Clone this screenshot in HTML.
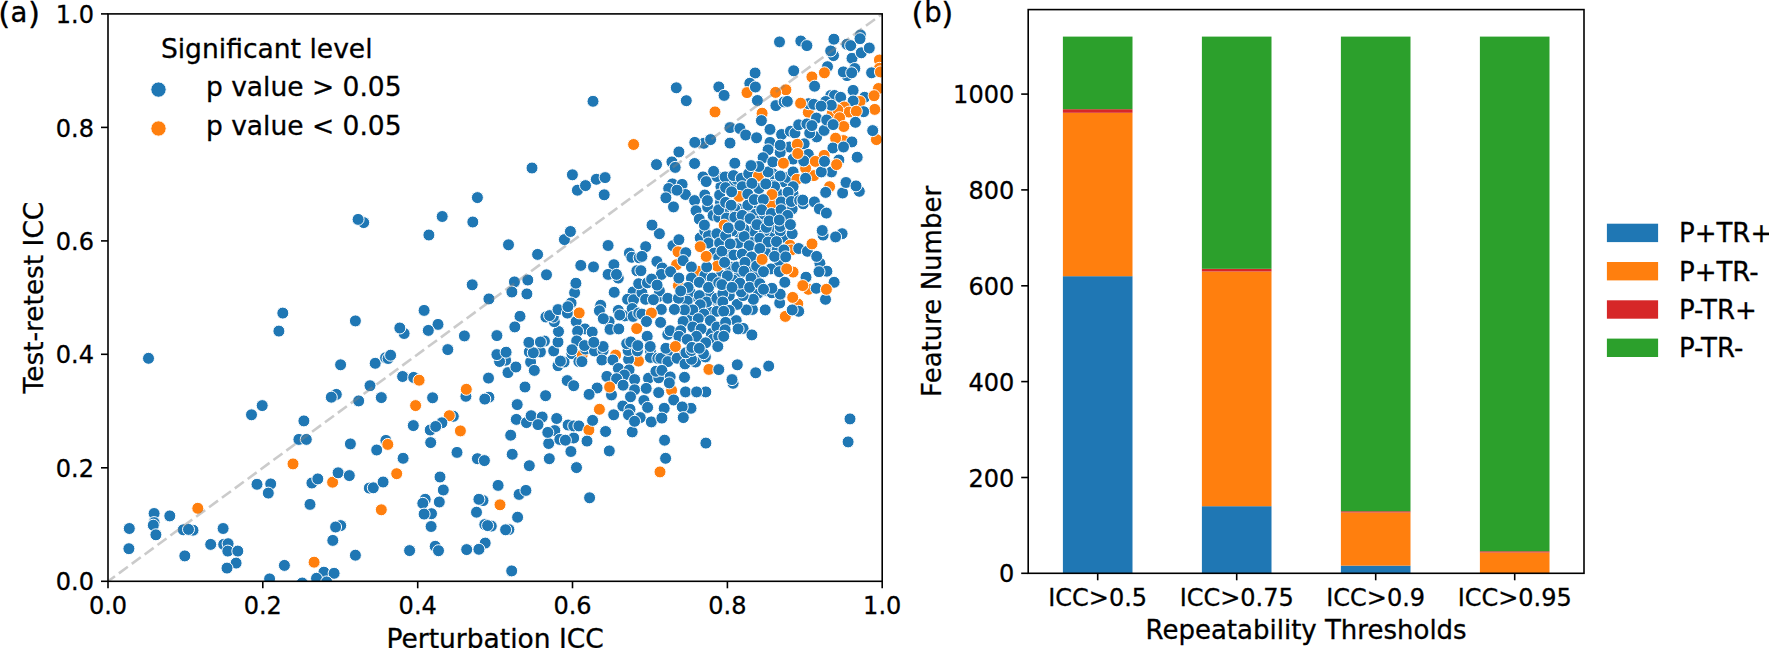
<!DOCTYPE html>
<html lang="en"><head><meta charset="utf-8"><title>Figure</title>
<style>html,body{margin:0;padding:0;background:#fff;}body{width:1769px;height:648px;overflow:hidden;}svg{display:block;}text{font-family:"DejaVu Sans", "Liberation Sans", sans-serif;fill:#000;stroke:#000;stroke-width:0.3px;}</style></head><body>
<svg width="1769" height="648" viewBox="0 0 1769 648">
<rect x="0" y="0" width="1769" height="648" fill="#fff"/>
<defs><clipPath id="ca"><rect x="108.0" y="13.9" width="774.2" height="567.4"/></clipPath></defs>
<g clip-path="url(#ca)">
<g stroke="#fff" stroke-width="1">
<circle cx="738.5" cy="243.0" r="6" fill="#1f77b4"/>
<circle cx="752.4" cy="237.4" r="6" fill="#1f77b4"/>
<circle cx="768.1" cy="247.6" r="6" fill="#1f77b4"/>
<circle cx="771.9" cy="251.3" r="6" fill="#1f77b4"/>
<circle cx="765.4" cy="252.2" r="6" fill="#1f77b4"/>
<circle cx="727.4" cy="253.1" r="6" fill="#1f77b4"/>
<circle cx="730.2" cy="267.0" r="6" fill="#1f77b4"/>
<circle cx="738.5" cy="276.3" r="6" fill="#1f77b4"/>
<circle cx="751.5" cy="270.7" r="6" fill="#1f77b4"/>
<circle cx="757.0" cy="274.4" r="6" fill="#1f77b4"/>
<circle cx="777.4" cy="249.4" r="6" fill="#1f77b4"/>
<circle cx="779.3" cy="265.2" r="6" fill="#1f77b4"/>
<circle cx="720.9" cy="275.4" r="6" fill="#1f77b4"/>
<circle cx="733.0" cy="280.0" r="6" fill="#1f77b4"/>
<circle cx="771.9" cy="235.6" r="6" fill="#1f77b4"/>
<circle cx="737.6" cy="231.9" r="6" fill="#1f77b4"/>
<circle cx="752.4" cy="230.9" r="6" fill="#1f77b4"/>
<circle cx="784.8" cy="237.4" r="6" fill="#1f77b4"/>
<circle cx="733.9" cy="183.9" r="6" fill="#1f77b4"/>
<circle cx="736.7" cy="179.3" r="6" fill="#1f77b4"/>
<circle cx="758.9" cy="188.5" r="6" fill="#1f77b4"/>
<circle cx="771.9" cy="179.3" r="6" fill="#1f77b4"/>
<circle cx="772.8" cy="173.7" r="6" fill="#1f77b4"/>
<circle cx="784.8" cy="182.0" r="6" fill="#1f77b4"/>
<circle cx="787.6" cy="177.4" r="6" fill="#1f77b4"/>
<circle cx="783.9" cy="196.9" r="6" fill="#1f77b4"/>
<circle cx="738.5" cy="208.9" r="6" fill="#1f77b4"/>
<circle cx="753.3" cy="209.8" r="6" fill="#1f77b4"/>
<circle cx="755.2" cy="214.4" r="6" fill="#1f77b4"/>
<circle cx="760.7" cy="220.0" r="6" fill="#1f77b4"/>
<circle cx="734.8" cy="208.9" r="6" fill="#1f77b4"/>
<circle cx="723.7" cy="210.7" r="6" fill="#1f77b4"/>
<circle cx="743.1" cy="221.9" r="6" fill="#1f77b4"/>
<circle cx="744.1" cy="229.3" r="6" fill="#1f77b4"/>
<circle cx="774.6" cy="210.7" r="6" fill="#1f77b4"/>
<circle cx="792.2" cy="208.9" r="6" fill="#1f77b4"/>
<circle cx="793.1" cy="194.1" r="6" fill="#1f77b4"/>
<circle cx="775.6" cy="227.4" r="6" fill="#1f77b4"/>
<circle cx="764.4" cy="214.4" r="6" fill="#1f77b4"/>
<circle cx="720.9" cy="186.7" r="6" fill="#1f77b4"/>
<circle cx="720.5" cy="202.4" r="6" fill="#1f77b4"/>
<circle cx="777.4" cy="193.1" r="6" fill="#1f77b4"/>
<circle cx="690.5" cy="316.9" r="6" fill="#1f77b4"/>
<circle cx="703.9" cy="306.7" r="6" fill="#1f77b4"/>
<circle cx="710.4" cy="312.2" r="6" fill="#1f77b4"/>
<circle cx="718.7" cy="304.8" r="6" fill="#1f77b4"/>
<circle cx="691.9" cy="296.5" r="6" fill="#1f77b4"/>
<circle cx="711.3" cy="299.3" r="6" fill="#1f77b4"/>
<circle cx="711.3" cy="333.5" r="6" fill="#1f77b4"/>
<circle cx="129.3" cy="528.5" r="6" fill="#1f77b4"/>
<circle cx="128.9" cy="548.7" r="6" fill="#1f77b4"/>
<circle cx="154.1" cy="513.5" r="6" fill="#1f77b4"/>
<circle cx="154.1" cy="522.6" r="6" fill="#1f77b4"/>
<circle cx="153.3" cy="525.2" r="6" fill="#1f77b4"/>
<circle cx="155.9" cy="534.8" r="6" fill="#1f77b4"/>
<circle cx="169.8" cy="515.9" r="6" fill="#1f77b4"/>
<circle cx="197.8" cy="508.3" r="6" fill="#ff7f0e"/>
<circle cx="183.3" cy="529.8" r="6" fill="#1f77b4"/>
<circle cx="193.0" cy="530.2" r="6" fill="#1f77b4"/>
<circle cx="188.5" cy="529.4" r="6" fill="#1f77b4"/>
<circle cx="184.8" cy="555.9" r="6" fill="#1f77b4"/>
<circle cx="223.1" cy="528.5" r="6" fill="#1f77b4"/>
<circle cx="210.7" cy="544.4" r="6" fill="#1f77b4"/>
<circle cx="223.7" cy="544.4" r="6" fill="#1f77b4"/>
<circle cx="228.1" cy="543.7" r="6" fill="#1f77b4"/>
<circle cx="227.8" cy="551.1" r="6" fill="#1f77b4"/>
<circle cx="237.8" cy="551.1" r="6" fill="#1f77b4"/>
<circle cx="236.1" cy="563.1" r="6" fill="#1f77b4"/>
<circle cx="227.0" cy="568.1" r="6" fill="#1f77b4"/>
<circle cx="257.0" cy="484.3" r="6" fill="#1f77b4"/>
<circle cx="270.7" cy="483.9" r="6" fill="#1f77b4"/>
<circle cx="268.3" cy="493.1" r="6" fill="#1f77b4"/>
<circle cx="311.9" cy="483.0" r="6" fill="#1f77b4"/>
<circle cx="317.8" cy="478.9" r="6" fill="#1f77b4"/>
<circle cx="332.6" cy="482.2" r="6" fill="#ff7f0e"/>
<circle cx="338.1" cy="472.8" r="6" fill="#1f77b4"/>
<circle cx="349.3" cy="475.6" r="6" fill="#1f77b4"/>
<circle cx="369.3" cy="488.1" r="6" fill="#1f77b4"/>
<circle cx="373.3" cy="487.8" r="6" fill="#1f77b4"/>
<circle cx="383.1" cy="482.0" r="6" fill="#1f77b4"/>
<circle cx="396.7" cy="473.7" r="6" fill="#ff7f0e"/>
<circle cx="310.0" cy="504.4" r="6" fill="#1f77b4"/>
<circle cx="381.3" cy="509.8" r="6" fill="#ff7f0e"/>
<circle cx="340.7" cy="525.6" r="6" fill="#1f77b4"/>
<circle cx="335.6" cy="527.0" r="6" fill="#1f77b4"/>
<circle cx="332.8" cy="540.4" r="6" fill="#1f77b4"/>
<circle cx="355.4" cy="555.2" r="6" fill="#1f77b4"/>
<circle cx="409.6" cy="550.6" r="6" fill="#1f77b4"/>
<circle cx="284.4" cy="565.4" r="6" fill="#1f77b4"/>
<circle cx="314.1" cy="562.2" r="6" fill="#ff7f0e"/>
<circle cx="323.9" cy="572.2" r="6" fill="#1f77b4"/>
<circle cx="334.1" cy="573.3" r="6" fill="#1f77b4"/>
<circle cx="269.6" cy="578.9" r="6" fill="#1f77b4"/>
<circle cx="316.5" cy="578.3" r="6" fill="#1f77b4"/>
<circle cx="302.2" cy="583.0" r="6" fill="#1f77b4"/>
<circle cx="326.7" cy="581.9" r="6" fill="#1f77b4"/>
<circle cx="440.0" cy="477.0" r="6" fill="#1f77b4"/>
<circle cx="443.3" cy="490.0" r="6" fill="#1f77b4"/>
<circle cx="439.3" cy="502.0" r="6" fill="#1f77b4"/>
<circle cx="425.2" cy="499.3" r="6" fill="#1f77b4"/>
<circle cx="422.8" cy="503.3" r="6" fill="#1f77b4"/>
<circle cx="431.5" cy="513.7" r="6" fill="#1f77b4"/>
<circle cx="424.1" cy="514.1" r="6" fill="#1f77b4"/>
<circle cx="431.1" cy="526.5" r="6" fill="#1f77b4"/>
<circle cx="435.2" cy="546.3" r="6" fill="#1f77b4"/>
<circle cx="438.5" cy="550.7" r="6" fill="#1f77b4"/>
<circle cx="466.7" cy="549.6" r="6" fill="#1f77b4"/>
<circle cx="485.2" cy="543.1" r="6" fill="#1f77b4"/>
<circle cx="478.9" cy="549.3" r="6" fill="#1f77b4"/>
<circle cx="476.5" cy="512.2" r="6" fill="#1f77b4"/>
<circle cx="483.0" cy="500.6" r="6" fill="#1f77b4"/>
<circle cx="478.9" cy="499.3" r="6" fill="#1f77b4"/>
<circle cx="498.1" cy="485.4" r="6" fill="#1f77b4"/>
<circle cx="500.0" cy="504.8" r="6" fill="#ff7f0e"/>
<circle cx="519.1" cy="494.4" r="6" fill="#1f77b4"/>
<circle cx="525.9" cy="490.4" r="6" fill="#1f77b4"/>
<circle cx="517.6" cy="517.2" r="6" fill="#1f77b4"/>
<circle cx="484.8" cy="524.6" r="6" fill="#1f77b4"/>
<circle cx="491.3" cy="526.1" r="6" fill="#1f77b4"/>
<circle cx="487.6" cy="525.6" r="6" fill="#1f77b4"/>
<circle cx="508.9" cy="529.6" r="6" fill="#1f77b4"/>
<circle cx="505.6" cy="529.8" r="6" fill="#1f77b4"/>
<circle cx="511.7" cy="570.9" r="6" fill="#1f77b4"/>
<circle cx="589.6" cy="497.8" r="6" fill="#1f77b4"/>
<circle cx="660.0" cy="471.9" r="6" fill="#ff7f0e"/>
<circle cx="850.0" cy="418.9" r="6" fill="#1f77b4"/>
<circle cx="848.1" cy="441.9" r="6" fill="#1f77b4"/>
<circle cx="148.5" cy="358.3" r="6" fill="#1f77b4"/>
<circle cx="251.5" cy="414.8" r="6" fill="#1f77b4"/>
<circle cx="262.2" cy="405.6" r="6" fill="#1f77b4"/>
<circle cx="340.6" cy="364.8" r="6" fill="#1f77b4"/>
<circle cx="375.2" cy="363.3" r="6" fill="#1f77b4"/>
<circle cx="385.6" cy="357.8" r="6" fill="#1f77b4"/>
<circle cx="388.1" cy="358.5" r="6" fill="#1f77b4"/>
<circle cx="390.6" cy="355.2" r="6" fill="#1f77b4"/>
<circle cx="402.6" cy="376.5" r="6" fill="#1f77b4"/>
<circle cx="413.7" cy="377.4" r="6" fill="#1f77b4"/>
<circle cx="370.0" cy="385.7" r="6" fill="#1f77b4"/>
<circle cx="336.3" cy="394.4" r="6" fill="#1f77b4"/>
<circle cx="331.3" cy="397.2" r="6" fill="#1f77b4"/>
<circle cx="358.7" cy="400.9" r="6" fill="#1f77b4"/>
<circle cx="381.3" cy="397.6" r="6" fill="#1f77b4"/>
<circle cx="415.6" cy="405.6" r="6" fill="#ff7f0e"/>
<circle cx="303.9" cy="420.9" r="6" fill="#1f77b4"/>
<circle cx="298.9" cy="439.4" r="6" fill="#1f77b4"/>
<circle cx="306.3" cy="439.4" r="6" fill="#1f77b4"/>
<circle cx="350.4" cy="443.9" r="6" fill="#1f77b4"/>
<circle cx="413.3" cy="425.6" r="6" fill="#1f77b4"/>
<circle cx="385.9" cy="440.4" r="6" fill="#1f77b4"/>
<circle cx="387.8" cy="444.4" r="6" fill="#ff7f0e"/>
<circle cx="376.7" cy="450.0" r="6" fill="#1f77b4"/>
<circle cx="403.1" cy="458.3" r="6" fill="#1f77b4"/>
<circle cx="293.0" cy="463.9" r="6" fill="#ff7f0e"/>
<circle cx="419.1" cy="380.2" r="6" fill="#ff7f0e"/>
<circle cx="447.8" cy="349.6" r="6" fill="#1f77b4"/>
<circle cx="432.6" cy="397.8" r="6" fill="#1f77b4"/>
<circle cx="465.9" cy="396.3" r="6" fill="#1f77b4"/>
<circle cx="466.3" cy="389.3" r="6" fill="#ff7f0e"/>
<circle cx="488.5" cy="378.1" r="6" fill="#1f77b4"/>
<circle cx="488.9" cy="397.2" r="6" fill="#1f77b4"/>
<circle cx="484.8" cy="399.1" r="6" fill="#1f77b4"/>
<circle cx="453.3" cy="416.3" r="6" fill="#1f77b4"/>
<circle cx="449.3" cy="415.7" r="6" fill="#ff7f0e"/>
<circle cx="441.9" cy="422.8" r="6" fill="#1f77b4"/>
<circle cx="430.2" cy="430.0" r="6" fill="#1f77b4"/>
<circle cx="435.7" cy="426.5" r="6" fill="#1f77b4"/>
<circle cx="460.4" cy="430.9" r="6" fill="#ff7f0e"/>
<circle cx="430.7" cy="442.6" r="6" fill="#1f77b4"/>
<circle cx="457.0" cy="452.4" r="6" fill="#1f77b4"/>
<circle cx="477.4" cy="458.7" r="6" fill="#1f77b4"/>
<circle cx="484.4" cy="460.6" r="6" fill="#1f77b4"/>
<circle cx="510.7" cy="435.2" r="6" fill="#1f77b4"/>
<circle cx="512.2" cy="454.3" r="6" fill="#1f77b4"/>
<circle cx="529.3" cy="465.7" r="6" fill="#1f77b4"/>
<circle cx="549.3" cy="458.7" r="6" fill="#1f77b4"/>
<circle cx="570.9" cy="451.5" r="6" fill="#1f77b4"/>
<circle cx="576.5" cy="467.6" r="6" fill="#1f77b4"/>
<circle cx="548.7" cy="443.5" r="6" fill="#1f77b4"/>
<circle cx="554.8" cy="430.6" r="6" fill="#1f77b4"/>
<circle cx="547.8" cy="432.4" r="6" fill="#1f77b4"/>
<circle cx="573.7" cy="438.0" r="6" fill="#1f77b4"/>
<circle cx="559.8" cy="439.4" r="6" fill="#1f77b4"/>
<circle cx="565.4" cy="440.2" r="6" fill="#1f77b4"/>
<circle cx="568.1" cy="425.0" r="6" fill="#1f77b4"/>
<circle cx="573.7" cy="425.9" r="6" fill="#1f77b4"/>
<circle cx="578.9" cy="425.9" r="6" fill="#1f77b4"/>
<circle cx="556.7" cy="418.5" r="6" fill="#1f77b4"/>
<circle cx="516.3" cy="419.4" r="6" fill="#1f77b4"/>
<circle cx="526.5" cy="422.6" r="6" fill="#1f77b4"/>
<circle cx="531.1" cy="415.7" r="6" fill="#1f77b4"/>
<circle cx="542.2" cy="417.0" r="6" fill="#1f77b4"/>
<circle cx="538.0" cy="424.6" r="6" fill="#1f77b4"/>
<circle cx="517.2" cy="404.6" r="6" fill="#1f77b4"/>
<circle cx="525.0" cy="387.0" r="6" fill="#1f77b4"/>
<circle cx="545.6" cy="395.7" r="6" fill="#1f77b4"/>
<circle cx="567.2" cy="380.6" r="6" fill="#1f77b4"/>
<circle cx="573.7" cy="385.7" r="6" fill="#1f77b4"/>
<circle cx="508.0" cy="372.6" r="6" fill="#1f77b4"/>
<circle cx="515.9" cy="367.0" r="6" fill="#1f77b4"/>
<circle cx="505.6" cy="360.2" r="6" fill="#1f77b4"/>
<circle cx="499.6" cy="361.5" r="6" fill="#1f77b4"/>
<circle cx="496.9" cy="354.6" r="6" fill="#1f77b4"/>
<circle cx="506.1" cy="352.2" r="6" fill="#1f77b4"/>
<circle cx="530.6" cy="362.0" r="6" fill="#1f77b4"/>
<circle cx="534.3" cy="370.4" r="6" fill="#1f77b4"/>
<circle cx="529.3" cy="351.9" r="6" fill="#1f77b4"/>
<circle cx="540.4" cy="351.9" r="6" fill="#1f77b4"/>
<circle cx="533.3" cy="352.8" r="6" fill="#1f77b4"/>
<circle cx="553.7" cy="350.9" r="6" fill="#1f77b4"/>
<circle cx="558.0" cy="365.7" r="6" fill="#1f77b4"/>
<circle cx="564.1" cy="362.0" r="6" fill="#1f77b4"/>
<circle cx="560.4" cy="361.1" r="6" fill="#1f77b4"/>
<circle cx="571.9" cy="353.7" r="6" fill="#1f77b4"/>
<circle cx="578.9" cy="361.5" r="6" fill="#1f77b4"/>
<circle cx="588.9" cy="430.0" r="6" fill="#ff7f0e"/>
<circle cx="592.6" cy="420.4" r="6" fill="#1f77b4"/>
<circle cx="587.0" cy="441.1" r="6" fill="#1f77b4"/>
<circle cx="605.6" cy="431.5" r="6" fill="#1f77b4"/>
<circle cx="609.3" cy="450.9" r="6" fill="#1f77b4"/>
<circle cx="632.2" cy="431.9" r="6" fill="#1f77b4"/>
<circle cx="664.6" cy="440.2" r="6" fill="#1f77b4"/>
<circle cx="665.6" cy="458.3" r="6" fill="#1f77b4"/>
<circle cx="705.9" cy="443.1" r="6" fill="#1f77b4"/>
<circle cx="582.3" cy="354.6" r="6" fill="#ff7f0e"/>
<circle cx="581.9" cy="361.6" r="6" fill="#1f77b4"/>
<circle cx="585.6" cy="349.1" r="6" fill="#1f77b4"/>
<circle cx="594.4" cy="350.9" r="6" fill="#1f77b4"/>
<circle cx="603.1" cy="350.5" r="6" fill="#1f77b4"/>
<circle cx="601.9" cy="360.0" r="6" fill="#1f77b4"/>
<circle cx="615.6" cy="355.1" r="6" fill="#ff7f0e"/>
<circle cx="612.9" cy="360.0" r="6" fill="#1f77b4"/>
<circle cx="638.5" cy="361.1" r="6" fill="#ff7f0e"/>
<circle cx="628.6" cy="359.3" r="6" fill="#1f77b4"/>
<circle cx="628.1" cy="350.5" r="6" fill="#1f77b4"/>
<circle cx="637.4" cy="350.9" r="6" fill="#1f77b4"/>
<circle cx="650.4" cy="350.9" r="6" fill="#1f77b4"/>
<circle cx="650.4" cy="357.4" r="6" fill="#1f77b4"/>
<circle cx="657.8" cy="358.3" r="6" fill="#1f77b4"/>
<circle cx="618.4" cy="368.5" r="6" fill="#1f77b4"/>
<circle cx="629.1" cy="369.9" r="6" fill="#1f77b4"/>
<circle cx="624.4" cy="375.0" r="6" fill="#1f77b4"/>
<circle cx="606.9" cy="376.4" r="6" fill="#1f77b4"/>
<circle cx="616.6" cy="378.7" r="6" fill="#1f77b4"/>
<circle cx="634.6" cy="379.6" r="6" fill="#1f77b4"/>
<circle cx="648.5" cy="378.2" r="6" fill="#1f77b4"/>
<circle cx="658.7" cy="377.8" r="6" fill="#1f77b4"/>
<circle cx="655.9" cy="371.3" r="6" fill="#1f77b4"/>
<circle cx="623.1" cy="385.2" r="6" fill="#1f77b4"/>
<circle cx="611.5" cy="394.9" r="6" fill="#1f77b4"/>
<circle cx="609.6" cy="387.0" r="6" fill="#ff7f0e"/>
<circle cx="597.1" cy="388.0" r="6" fill="#1f77b4"/>
<circle cx="634.6" cy="389.8" r="6" fill="#1f77b4"/>
<circle cx="646.2" cy="388.4" r="6" fill="#1f77b4"/>
<circle cx="658.7" cy="392.6" r="6" fill="#1f77b4"/>
<circle cx="589.1" cy="394.4" r="6" fill="#1f77b4"/>
<circle cx="630.5" cy="396.8" r="6" fill="#1f77b4"/>
<circle cx="643.9" cy="400.5" r="6" fill="#1f77b4"/>
<circle cx="622.8" cy="406.0" r="6" fill="#1f77b4"/>
<circle cx="599.4" cy="409.3" r="6" fill="#ff7f0e"/>
<circle cx="647.6" cy="407.4" r="6" fill="#1f77b4"/>
<circle cx="630.0" cy="409.3" r="6" fill="#1f77b4"/>
<circle cx="675.3" cy="350.5" r="6" fill="#ff7f0e"/>
<circle cx="667.4" cy="351.9" r="6" fill="#1f77b4"/>
<circle cx="660.9" cy="358.3" r="6" fill="#1f77b4"/>
<circle cx="667.9" cy="361.6" r="6" fill="#1f77b4"/>
<circle cx="677.1" cy="358.3" r="6" fill="#1f77b4"/>
<circle cx="685.0" cy="363.9" r="6" fill="#1f77b4"/>
<circle cx="695.6" cy="362.0" r="6" fill="#1f77b4"/>
<circle cx="691.5" cy="359.3" r="6" fill="#1f77b4"/>
<circle cx="685.9" cy="352.8" r="6" fill="#1f77b4"/>
<circle cx="691.5" cy="350.5" r="6" fill="#1f77b4"/>
<circle cx="701.7" cy="350.9" r="6" fill="#1f77b4"/>
<circle cx="705.4" cy="356.9" r="6" fill="#1f77b4"/>
<circle cx="703.5" cy="353.7" r="6" fill="#1f77b4"/>
<circle cx="708.9" cy="369.4" r="6" fill="#ff7f0e"/>
<circle cx="718.8" cy="369.6" r="6" fill="#1f77b4"/>
<circle cx="737.3" cy="364.8" r="6" fill="#1f77b4"/>
<circle cx="733.1" cy="383.3" r="6" fill="#1f77b4"/>
<circle cx="732.0" cy="379.6" r="6" fill="#1f77b4"/>
<circle cx="684.5" cy="377.3" r="6" fill="#1f77b4"/>
<circle cx="661.9" cy="370.4" r="6" fill="#1f77b4"/>
<circle cx="670.2" cy="376.9" r="6" fill="#1f77b4"/>
<circle cx="671.6" cy="390.3" r="6" fill="#ff7f0e"/>
<circle cx="669.3" cy="382.9" r="6" fill="#1f77b4"/>
<circle cx="685.5" cy="391.9" r="6" fill="#1f77b4"/>
<circle cx="705.8" cy="391.9" r="6" fill="#1f77b4"/>
<circle cx="696.6" cy="391.9" r="6" fill="#1f77b4"/>
<circle cx="673.7" cy="400.0" r="6" fill="#1f77b4"/>
<circle cx="691.0" cy="408.3" r="6" fill="#1f77b4"/>
<circle cx="682.2" cy="406.9" r="6" fill="#1f77b4"/>
<circle cx="664.2" cy="408.3" r="6" fill="#1f77b4"/>
<circle cx="613.7" cy="414.8" r="6" fill="#1f77b4"/>
<circle cx="628.5" cy="414.8" r="6" fill="#1f77b4"/>
<circle cx="640.2" cy="417.6" r="6" fill="#1f77b4"/>
<circle cx="634.6" cy="421.3" r="6" fill="#1f77b4"/>
<circle cx="651.3" cy="421.9" r="6" fill="#1f77b4"/>
<circle cx="661.9" cy="418.1" r="6" fill="#1f77b4"/>
<circle cx="683.3" cy="417.6" r="6" fill="#1f77b4"/>
<circle cx="755.7" cy="372.8" r="6" fill="#1f77b4"/>
<circle cx="768.7" cy="366.1" r="6" fill="#1f77b4"/>
<circle cx="363.7" cy="222.6" r="6" fill="#1f77b4"/>
<circle cx="358.1" cy="219.4" r="6" fill="#1f77b4"/>
<circle cx="282.8" cy="313.1" r="6" fill="#1f77b4"/>
<circle cx="278.9" cy="331.1" r="6" fill="#1f77b4"/>
<circle cx="355.4" cy="320.9" r="6" fill="#1f77b4"/>
<circle cx="404.1" cy="333.5" r="6" fill="#1f77b4"/>
<circle cx="399.8" cy="328.0" r="6" fill="#1f77b4"/>
<circle cx="428.9" cy="235.0" r="6" fill="#1f77b4"/>
<circle cx="508.5" cy="244.8" r="6" fill="#1f77b4"/>
<circle cx="537.6" cy="254.4" r="6" fill="#1f77b4"/>
<circle cx="564.4" cy="239.6" r="6" fill="#1f77b4"/>
<circle cx="570.4" cy="231.5" r="6" fill="#1f77b4"/>
<circle cx="546.5" cy="274.8" r="6" fill="#1f77b4"/>
<circle cx="514.4" cy="281.9" r="6" fill="#1f77b4"/>
<circle cx="527.8" cy="280.0" r="6" fill="#1f77b4"/>
<circle cx="511.9" cy="292.0" r="6" fill="#1f77b4"/>
<circle cx="526.9" cy="293.9" r="6" fill="#1f77b4"/>
<circle cx="472.2" cy="284.8" r="6" fill="#1f77b4"/>
<circle cx="488.9" cy="298.9" r="6" fill="#1f77b4"/>
<circle cx="424.1" cy="310.4" r="6" fill="#1f77b4"/>
<circle cx="438.0" cy="324.4" r="6" fill="#1f77b4"/>
<circle cx="428.3" cy="330.4" r="6" fill="#1f77b4"/>
<circle cx="464.4" cy="335.9" r="6" fill="#1f77b4"/>
<circle cx="496.9" cy="335.6" r="6" fill="#1f77b4"/>
<circle cx="520.0" cy="316.3" r="6" fill="#1f77b4"/>
<circle cx="514.8" cy="326.9" r="6" fill="#1f77b4"/>
<circle cx="528.9" cy="342.4" r="6" fill="#1f77b4"/>
<circle cx="544.4" cy="341.1" r="6" fill="#1f77b4"/>
<circle cx="540.4" cy="342.0" r="6" fill="#1f77b4"/>
<circle cx="558.0" cy="342.0" r="6" fill="#1f77b4"/>
<circle cx="558.5" cy="331.5" r="6" fill="#1f77b4"/>
<circle cx="554.3" cy="321.7" r="6" fill="#1f77b4"/>
<circle cx="553.3" cy="317.0" r="6" fill="#1f77b4"/>
<circle cx="545.9" cy="317.0" r="6" fill="#1f77b4"/>
<circle cx="549.6" cy="315.6" r="6" fill="#1f77b4"/>
<circle cx="558.0" cy="309.6" r="6" fill="#1f77b4"/>
<circle cx="574.6" cy="292.8" r="6" fill="#1f77b4"/>
<circle cx="614.2" cy="292.3" r="6" fill="#1f77b4"/>
<circle cx="571.1" cy="303.0" r="6" fill="#1f77b4"/>
<circle cx="567.4" cy="313.1" r="6" fill="#1f77b4"/>
<circle cx="567.9" cy="306.7" r="6" fill="#1f77b4"/>
<circle cx="600.7" cy="305.3" r="6" fill="#1f77b4"/>
<circle cx="599.4" cy="310.8" r="6" fill="#1f77b4"/>
<circle cx="609.1" cy="321.5" r="6" fill="#1f77b4"/>
<circle cx="603.3" cy="318.7" r="6" fill="#1f77b4"/>
<circle cx="610.0" cy="329.4" r="6" fill="#1f77b4"/>
<circle cx="618.8" cy="328.9" r="6" fill="#1f77b4"/>
<circle cx="618.3" cy="310.4" r="6" fill="#1f77b4"/>
<circle cx="624.8" cy="315.9" r="6" fill="#1f77b4"/>
<circle cx="619.7" cy="315.0" r="6" fill="#1f77b4"/>
<circle cx="633.1" cy="291.9" r="6" fill="#1f77b4"/>
<circle cx="627.6" cy="299.3" r="6" fill="#1f77b4"/>
<circle cx="633.6" cy="299.7" r="6" fill="#1f77b4"/>
<circle cx="632.2" cy="308.5" r="6" fill="#1f77b4"/>
<circle cx="633.1" cy="316.4" r="6" fill="#1f77b4"/>
<circle cx="638.7" cy="313.1" r="6" fill="#1f77b4"/>
<circle cx="636.7" cy="328.6" r="6" fill="#ff7f0e"/>
<circle cx="576.2" cy="321.5" r="6" fill="#1f77b4"/>
<circle cx="579.2" cy="312.9" r="6" fill="#ff7f0e"/>
<circle cx="585.0" cy="328.9" r="6" fill="#1f77b4"/>
<circle cx="577.6" cy="331.2" r="6" fill="#1f77b4"/>
<circle cx="592.2" cy="332.1" r="6" fill="#1f77b4"/>
<circle cx="576.7" cy="340.9" r="6" fill="#1f77b4"/>
<circle cx="584.5" cy="345.6" r="6" fill="#1f77b4"/>
<circle cx="603.1" cy="346.5" r="6" fill="#1f77b4"/>
<circle cx="593.8" cy="342.3" r="6" fill="#1f77b4"/>
<circle cx="626.7" cy="343.7" r="6" fill="#1f77b4"/>
<circle cx="630.8" cy="341.9" r="6" fill="#1f77b4"/>
<circle cx="637.8" cy="345.6" r="6" fill="#1f77b4"/>
<circle cx="572.0" cy="349.7" r="6" fill="#1f77b4"/>
<circle cx="641.9" cy="292.8" r="6" fill="#1f77b4"/>
<circle cx="645.6" cy="299.3" r="6" fill="#1f77b4"/>
<circle cx="658.5" cy="296.5" r="6" fill="#1f77b4"/>
<circle cx="659.4" cy="290.9" r="6" fill="#1f77b4"/>
<circle cx="653.4" cy="299.7" r="6" fill="#1f77b4"/>
<circle cx="667.8" cy="298.3" r="6" fill="#1f77b4"/>
<circle cx="680.7" cy="290.9" r="6" fill="#1f77b4"/>
<circle cx="690.0" cy="291.9" r="6" fill="#1f77b4"/>
<circle cx="687.2" cy="301.1" r="6" fill="#1f77b4"/>
<circle cx="678.4" cy="298.3" r="6" fill="#1f77b4"/>
<circle cx="708.5" cy="291.9" r="6" fill="#1f77b4"/>
<circle cx="699.3" cy="295.6" r="6" fill="#1f77b4"/>
<circle cx="706.7" cy="302.0" r="6" fill="#1f77b4"/>
<circle cx="700.2" cy="304.8" r="6" fill="#1f77b4"/>
<circle cx="716.9" cy="298.3" r="6" fill="#1f77b4"/>
<circle cx="716.9" cy="311.3" r="6" fill="#1f77b4"/>
<circle cx="692.8" cy="309.9" r="6" fill="#1f77b4"/>
<circle cx="684.4" cy="309.9" r="6" fill="#1f77b4"/>
<circle cx="674.4" cy="309.4" r="6" fill="#1f77b4"/>
<circle cx="661.3" cy="309.4" r="6" fill="#1f77b4"/>
<circle cx="641.9" cy="314.1" r="6" fill="#1f77b4"/>
<circle cx="651.4" cy="313.1" r="6" fill="#ff7f0e"/>
<circle cx="646.5" cy="321.5" r="6" fill="#1f77b4"/>
<circle cx="660.6" cy="322.4" r="6" fill="#1f77b4"/>
<circle cx="703.9" cy="314.1" r="6" fill="#1f77b4"/>
<circle cx="698.3" cy="318.7" r="6" fill="#1f77b4"/>
<circle cx="683.1" cy="321.5" r="6" fill="#1f77b4"/>
<circle cx="710.4" cy="320.6" r="6" fill="#1f77b4"/>
<circle cx="692.8" cy="327.0" r="6" fill="#1f77b4"/>
<circle cx="701.1" cy="328.9" r="6" fill="#1f77b4"/>
<circle cx="716.9" cy="327.0" r="6" fill="#1f77b4"/>
<circle cx="667.8" cy="334.4" r="6" fill="#1f77b4"/>
<circle cx="670.1" cy="330.7" r="6" fill="#1f77b4"/>
<circle cx="647.2" cy="336.3" r="6" fill="#1f77b4"/>
<circle cx="680.7" cy="330.7" r="6" fill="#1f77b4"/>
<circle cx="678.9" cy="336.3" r="6" fill="#1f77b4"/>
<circle cx="696.5" cy="336.3" r="6" fill="#1f77b4"/>
<circle cx="687.2" cy="339.5" r="6" fill="#1f77b4"/>
<circle cx="713.1" cy="339.1" r="6" fill="#1f77b4"/>
<circle cx="705.7" cy="342.8" r="6" fill="#1f77b4"/>
<circle cx="718.7" cy="336.3" r="6" fill="#1f77b4"/>
<circle cx="717.8" cy="346.5" r="6" fill="#1f77b4"/>
<circle cx="650.2" cy="346.5" r="6" fill="#1f77b4"/>
<circle cx="665.9" cy="348.3" r="6" fill="#1f77b4"/>
<circle cx="675.4" cy="346.5" r="6" fill="#ff7f0e"/>
<circle cx="691.9" cy="347.4" r="6" fill="#1f77b4"/>
<circle cx="699.3" cy="348.3" r="6" fill="#1f77b4"/>
<circle cx="767.2" cy="290.9" r="6" fill="#1f77b4"/>
<circle cx="771.9" cy="292.8" r="6" fill="#1f77b4"/>
<circle cx="758.0" cy="293.2" r="6" fill="#1f77b4"/>
<circle cx="779.7" cy="303.0" r="6" fill="#1f77b4"/>
<circle cx="780.2" cy="294.2" r="6" fill="#1f77b4"/>
<circle cx="797.8" cy="303.9" r="6" fill="#ff7f0e"/>
<circle cx="792.7" cy="297.4" r="6" fill="#ff7f0e"/>
<circle cx="785.3" cy="316.4" r="6" fill="#ff7f0e"/>
<circle cx="798.7" cy="311.3" r="6" fill="#1f77b4"/>
<circle cx="792.2" cy="309.9" r="6" fill="#1f77b4"/>
<circle cx="765.2" cy="309.9" r="6" fill="#1f77b4"/>
<circle cx="752.4" cy="309.4" r="6" fill="#1f77b4"/>
<circle cx="746.4" cy="309.9" r="6" fill="#1f77b4"/>
<circle cx="737.1" cy="304.4" r="6" fill="#1f77b4"/>
<circle cx="753.3" cy="299.3" r="6" fill="#1f77b4"/>
<circle cx="743.1" cy="295.6" r="6" fill="#1f77b4"/>
<circle cx="741.3" cy="291.9" r="6" fill="#1f77b4"/>
<circle cx="729.3" cy="295.6" r="6" fill="#1f77b4"/>
<circle cx="722.8" cy="293.7" r="6" fill="#1f77b4"/>
<circle cx="722.8" cy="302.0" r="6" fill="#1f77b4"/>
<circle cx="729.3" cy="310.4" r="6" fill="#1f77b4"/>
<circle cx="723.7" cy="311.3" r="6" fill="#1f77b4"/>
<circle cx="736.2" cy="320.6" r="6" fill="#1f77b4"/>
<circle cx="743.1" cy="328.4" r="6" fill="#1f77b4"/>
<circle cx="738.1" cy="328.9" r="6" fill="#1f77b4"/>
<circle cx="751.9" cy="334.9" r="6" fill="#1f77b4"/>
<circle cx="725.6" cy="322.4" r="6" fill="#1f77b4"/>
<circle cx="725.1" cy="329.8" r="6" fill="#1f77b4"/>
<circle cx="723.7" cy="336.3" r="6" fill="#1f77b4"/>
<circle cx="825.5" cy="299.3" r="6" fill="#1f77b4"/>
<circle cx="608.1" cy="245.5" r="6" fill="#1f77b4"/>
<circle cx="629.4" cy="253.1" r="6" fill="#1f77b4"/>
<circle cx="631.8" cy="257.3" r="6" fill="#1f77b4"/>
<circle cx="580.8" cy="265.4" r="6" fill="#1f77b4"/>
<circle cx="593.5" cy="266.9" r="6" fill="#1f77b4"/>
<circle cx="613.9" cy="264.7" r="6" fill="#1f77b4"/>
<circle cx="608.1" cy="274.4" r="6" fill="#1f77b4"/>
<circle cx="618.3" cy="278.1" r="6" fill="#1f77b4"/>
<circle cx="616.5" cy="274.4" r="6" fill="#1f77b4"/>
<circle cx="636.9" cy="270.7" r="6" fill="#1f77b4"/>
<circle cx="639.2" cy="257.8" r="6" fill="#1f77b4"/>
<circle cx="575.9" cy="283.2" r="6" fill="#1f77b4"/>
<circle cx="638.7" cy="283.7" r="6" fill="#1f77b4"/>
<circle cx="659.4" cy="233.7" r="6" fill="#1f77b4"/>
<circle cx="645.7" cy="246.7" r="6" fill="#1f77b4"/>
<circle cx="641.9" cy="256.4" r="6" fill="#1f77b4"/>
<circle cx="640.9" cy="270.7" r="6" fill="#1f77b4"/>
<circle cx="656.9" cy="261.5" r="6" fill="#1f77b4"/>
<circle cx="672.9" cy="245.7" r="6" fill="#1f77b4"/>
<circle cx="678.9" cy="239.7" r="6" fill="#1f77b4"/>
<circle cx="678.0" cy="251.8" r="6" fill="#ff7f0e"/>
<circle cx="685.8" cy="252.7" r="6" fill="#1f77b4"/>
<circle cx="676.6" cy="264.7" r="6" fill="#ff7f0e"/>
<circle cx="683.1" cy="260.6" r="6" fill="#1f77b4"/>
<circle cx="700.2" cy="237.9" r="6" fill="#1f77b4"/>
<circle cx="704.8" cy="230.9" r="6" fill="#1f77b4"/>
<circle cx="708.5" cy="235.6" r="6" fill="#1f77b4"/>
<circle cx="716.9" cy="233.7" r="6" fill="#1f77b4"/>
<circle cx="708.5" cy="243.0" r="6" fill="#1f77b4"/>
<circle cx="714.1" cy="253.1" r="6" fill="#1f77b4"/>
<circle cx="719.6" cy="243.0" r="6" fill="#1f77b4"/>
<circle cx="718.7" cy="257.8" r="6" fill="#1f77b4"/>
<circle cx="717.3" cy="266.1" r="6" fill="#ff7f0e"/>
<circle cx="697.9" cy="271.2" r="6" fill="#ff7f0e"/>
<circle cx="691.4" cy="267.0" r="6" fill="#1f77b4"/>
<circle cx="662.2" cy="268.0" r="6" fill="#1f77b4"/>
<circle cx="661.3" cy="274.4" r="6" fill="#1f77b4"/>
<circle cx="670.6" cy="271.7" r="6" fill="#1f77b4"/>
<circle cx="647.4" cy="282.8" r="6" fill="#1f77b4"/>
<circle cx="651.6" cy="279.1" r="6" fill="#1f77b4"/>
<circle cx="657.1" cy="285.1" r="6" fill="#1f77b4"/>
<circle cx="678.4" cy="285.6" r="6" fill="#ff7f0e"/>
<circle cx="678.9" cy="278.1" r="6" fill="#1f77b4"/>
<circle cx="691.4" cy="278.1" r="6" fill="#1f77b4"/>
<circle cx="704.8" cy="275.4" r="6" fill="#1f77b4"/>
<circle cx="706.7" cy="267.0" r="6" fill="#1f77b4"/>
<circle cx="699.3" cy="282.3" r="6" fill="#1f77b4"/>
<circle cx="712.2" cy="278.1" r="6" fill="#1f77b4"/>
<circle cx="708.5" cy="287.4" r="6" fill="#1f77b4"/>
<circle cx="718.7" cy="282.8" r="6" fill="#1f77b4"/>
<circle cx="688.1" cy="287.4" r="6" fill="#1f77b4"/>
<circle cx="700.2" cy="246.7" r="6" fill="#ff7f0e"/>
<circle cx="706.2" cy="256.4" r="6" fill="#ff7f0e"/>
<circle cx="680.7" cy="290.9" r="6" fill="#1f77b4"/>
<circle cx="732.0" cy="230.9" r="6" fill="#1f77b4"/>
<circle cx="725.6" cy="235.6" r="6" fill="#1f77b4"/>
<circle cx="721.9" cy="251.3" r="6" fill="#1f77b4"/>
<circle cx="730.2" cy="243.9" r="6" fill="#1f77b4"/>
<circle cx="744.1" cy="236.5" r="6" fill="#1f77b4"/>
<circle cx="749.2" cy="245.7" r="6" fill="#1f77b4"/>
<circle cx="764.4" cy="231.4" r="6" fill="#1f77b4"/>
<circle cx="780.2" cy="230.9" r="6" fill="#1f77b4"/>
<circle cx="792.2" cy="233.7" r="6" fill="#1f77b4"/>
<circle cx="759.8" cy="238.3" r="6" fill="#1f77b4"/>
<circle cx="768.1" cy="242.0" r="6" fill="#1f77b4"/>
<circle cx="759.8" cy="248.5" r="6" fill="#1f77b4"/>
<circle cx="776.5" cy="241.6" r="6" fill="#1f77b4"/>
<circle cx="789.9" cy="245.3" r="6" fill="#ff7f0e"/>
<circle cx="791.3" cy="249.9" r="6" fill="#ff7f0e"/>
<circle cx="798.7" cy="248.5" r="6" fill="#1f77b4"/>
<circle cx="783.9" cy="249.9" r="6" fill="#1f77b4"/>
<circle cx="774.6" cy="256.4" r="6" fill="#1f77b4"/>
<circle cx="785.7" cy="256.9" r="6" fill="#1f77b4"/>
<circle cx="733.9" cy="255.0" r="6" fill="#1f77b4"/>
<circle cx="742.2" cy="254.1" r="6" fill="#1f77b4"/>
<circle cx="751.5" cy="256.9" r="6" fill="#1f77b4"/>
<circle cx="724.6" cy="262.4" r="6" fill="#1f77b4"/>
<circle cx="736.7" cy="267.0" r="6" fill="#1f77b4"/>
<circle cx="745.0" cy="262.4" r="6" fill="#1f77b4"/>
<circle cx="756.6" cy="266.1" r="6" fill="#1f77b4"/>
<circle cx="770.9" cy="268.9" r="6" fill="#1f77b4"/>
<circle cx="762.1" cy="259.4" r="6" fill="#ff7f0e"/>
<circle cx="743.9" cy="271.2" r="6" fill="#1f77b4"/>
<circle cx="763.5" cy="271.7" r="6" fill="#1f77b4"/>
<circle cx="779.3" cy="271.7" r="6" fill="#1f77b4"/>
<circle cx="793.1" cy="272.1" r="6" fill="#ff7f0e"/>
<circle cx="786.7" cy="268.9" r="6" fill="#ff7f0e"/>
<circle cx="727.4" cy="275.8" r="6" fill="#1f77b4"/>
<circle cx="751.0" cy="278.1" r="6" fill="#1f77b4"/>
<circle cx="739.9" cy="283.2" r="6" fill="#1f77b4"/>
<circle cx="721.9" cy="284.6" r="6" fill="#1f77b4"/>
<circle cx="784.8" cy="282.3" r="6" fill="#1f77b4"/>
<circle cx="732.0" cy="287.4" r="6" fill="#1f77b4"/>
<circle cx="749.6" cy="287.4" r="6" fill="#1f77b4"/>
<circle cx="759.8" cy="283.7" r="6" fill="#1f77b4"/>
<circle cx="771.9" cy="288.3" r="6" fill="#1f77b4"/>
<circle cx="763.5" cy="289.3" r="6" fill="#1f77b4"/>
<circle cx="823.1" cy="235.1" r="6" fill="#1f77b4"/>
<circle cx="822.2" cy="230.5" r="6" fill="#1f77b4"/>
<circle cx="842.1" cy="233.7" r="6" fill="#1f77b4"/>
<circle cx="835.6" cy="236.9" r="6" fill="#1f77b4"/>
<circle cx="807.4" cy="251.3" r="6" fill="#1f77b4"/>
<circle cx="812.0" cy="243.9" r="6" fill="#ff7f0e"/>
<circle cx="819.9" cy="263.3" r="6" fill="#1f77b4"/>
<circle cx="816.7" cy="256.4" r="6" fill="#1f77b4"/>
<circle cx="826.9" cy="271.2" r="6" fill="#1f77b4"/>
<circle cx="819.0" cy="271.7" r="6" fill="#1f77b4"/>
<circle cx="806.0" cy="277.2" r="6" fill="#1f77b4"/>
<circle cx="834.1" cy="282.3" r="6" fill="#1f77b4"/>
<circle cx="808.3" cy="289.3" r="6" fill="#ff7f0e"/>
<circle cx="802.8" cy="285.6" r="6" fill="#ff7f0e"/>
<circle cx="816.2" cy="288.3" r="6" fill="#1f77b4"/>
<circle cx="826.4" cy="289.3" r="6" fill="#ff7f0e"/>
<circle cx="532.0" cy="168.0" r="6" fill="#1f77b4"/>
<circle cx="572.4" cy="174.8" r="6" fill="#1f77b4"/>
<circle cx="577.4" cy="190.2" r="6" fill="#1f77b4"/>
<circle cx="477.4" cy="197.6" r="6" fill="#1f77b4"/>
<circle cx="442.2" cy="216.5" r="6" fill="#1f77b4"/>
<circle cx="472.8" cy="222.0" r="6" fill="#1f77b4"/>
<circle cx="585.5" cy="185.6" r="6" fill="#1f77b4"/>
<circle cx="596.3" cy="179.3" r="6" fill="#1f77b4"/>
<circle cx="605.1" cy="177.6" r="6" fill="#1f77b4"/>
<circle cx="604.2" cy="194.8" r="6" fill="#1f77b4"/>
<circle cx="672.4" cy="183.9" r="6" fill="#1f77b4"/>
<circle cx="682.1" cy="184.4" r="6" fill="#1f77b4"/>
<circle cx="668.7" cy="188.5" r="6" fill="#1f77b4"/>
<circle cx="685.4" cy="194.5" r="6" fill="#1f77b4"/>
<circle cx="677.0" cy="190.2" r="6" fill="#1f77b4"/>
<circle cx="665.9" cy="197.8" r="6" fill="#1f77b4"/>
<circle cx="673.5" cy="206.9" r="6" fill="#1f77b4"/>
<circle cx="694.6" cy="200.6" r="6" fill="#1f77b4"/>
<circle cx="696.0" cy="210.7" r="6" fill="#1f77b4"/>
<circle cx="704.8" cy="195.0" r="6" fill="#1f77b4"/>
<circle cx="707.6" cy="207.0" r="6" fill="#1f77b4"/>
<circle cx="707.4" cy="200.6" r="6" fill="#1f77b4"/>
<circle cx="703.0" cy="176.9" r="6" fill="#1f77b4"/>
<circle cx="706.2" cy="181.6" r="6" fill="#1f77b4"/>
<circle cx="716.9" cy="176.5" r="6" fill="#1f77b4"/>
<circle cx="713.6" cy="171.4" r="6" fill="#1f77b4"/>
<circle cx="719.6" cy="195.0" r="6" fill="#1f77b4"/>
<circle cx="713.1" cy="215.4" r="6" fill="#1f77b4"/>
<circle cx="718.7" cy="217.2" r="6" fill="#1f77b4"/>
<circle cx="718.7" cy="209.8" r="6" fill="#1f77b4"/>
<circle cx="699.3" cy="219.1" r="6" fill="#1f77b4"/>
<circle cx="704.4" cy="225.1" r="6" fill="#1f77b4"/>
<circle cx="652.0" cy="225.1" r="6" fill="#1f77b4"/>
<circle cx="725.1" cy="176.9" r="6" fill="#1f77b4"/>
<circle cx="733.4" cy="175.6" r="6" fill="#1f77b4"/>
<circle cx="741.3" cy="178.3" r="6" fill="#1f77b4"/>
<circle cx="748.7" cy="173.7" r="6" fill="#1f77b4"/>
<circle cx="758.4" cy="176.0" r="6" fill="#ff7f0e"/>
<circle cx="742.2" cy="186.7" r="6" fill="#1f77b4"/>
<circle cx="751.9" cy="183.4" r="6" fill="#1f77b4"/>
<circle cx="774.6" cy="186.7" r="6" fill="#1f77b4"/>
<circle cx="765.8" cy="183.9" r="6" fill="#1f77b4"/>
<circle cx="768.1" cy="171.9" r="6" fill="#1f77b4"/>
<circle cx="793.1" cy="171.9" r="6" fill="#1f77b4"/>
<circle cx="780.2" cy="176.0" r="6" fill="#1f77b4"/>
<circle cx="796.9" cy="179.3" r="6" fill="#ff7f0e"/>
<circle cx="793.1" cy="186.7" r="6" fill="#1f77b4"/>
<circle cx="788.1" cy="192.2" r="6" fill="#1f77b4"/>
<circle cx="725.6" cy="187.6" r="6" fill="#1f77b4"/>
<circle cx="739.0" cy="196.4" r="6" fill="#ff7f0e"/>
<circle cx="731.6" cy="191.8" r="6" fill="#1f77b4"/>
<circle cx="771.4" cy="204.3" r="6" fill="#ff7f0e"/>
<circle cx="771.9" cy="194.5" r="6" fill="#ff7f0e"/>
<circle cx="781.1" cy="201.9" r="6" fill="#1f77b4"/>
<circle cx="747.8" cy="194.1" r="6" fill="#1f77b4"/>
<circle cx="747.8" cy="205.2" r="6" fill="#1f77b4"/>
<circle cx="754.3" cy="199.6" r="6" fill="#1f77b4"/>
<circle cx="763.3" cy="199.6" r="6" fill="#1f77b4"/>
<circle cx="725.6" cy="202.4" r="6" fill="#1f77b4"/>
<circle cx="731.1" cy="205.2" r="6" fill="#1f77b4"/>
<circle cx="761.7" cy="209.8" r="6" fill="#1f77b4"/>
<circle cx="771.4" cy="213.5" r="6" fill="#1f77b4"/>
<circle cx="781.1" cy="209.8" r="6" fill="#1f77b4"/>
<circle cx="787.6" cy="215.4" r="6" fill="#1f77b4"/>
<circle cx="791.3" cy="201.5" r="6" fill="#1f77b4"/>
<circle cx="799.6" cy="200.6" r="6" fill="#1f77b4"/>
<circle cx="726.5" cy="218.1" r="6" fill="#1f77b4"/>
<circle cx="734.8" cy="217.2" r="6" fill="#1f77b4"/>
<circle cx="742.2" cy="215.4" r="6" fill="#1f77b4"/>
<circle cx="750.1" cy="218.6" r="6" fill="#1f77b4"/>
<circle cx="724.2" cy="225.1" r="6" fill="#ff7f0e"/>
<circle cx="728.3" cy="227.9" r="6" fill="#1f77b4"/>
<circle cx="739.9" cy="225.6" r="6" fill="#1f77b4"/>
<circle cx="757.0" cy="224.6" r="6" fill="#1f77b4"/>
<circle cx="766.3" cy="227.4" r="6" fill="#1f77b4"/>
<circle cx="769.1" cy="220.9" r="6" fill="#1f77b4"/>
<circle cx="780.2" cy="226.5" r="6" fill="#1f77b4"/>
<circle cx="779.3" cy="220.0" r="6" fill="#1f77b4"/>
<circle cx="790.4" cy="224.6" r="6" fill="#1f77b4"/>
<circle cx="805.6" cy="178.3" r="6" fill="#1f77b4"/>
<circle cx="813.9" cy="175.6" r="6" fill="#ff7f0e"/>
<circle cx="831.5" cy="171.9" r="6" fill="#1f77b4"/>
<circle cx="821.3" cy="171.9" r="6" fill="#1f77b4"/>
<circle cx="829.6" cy="186.7" r="6" fill="#ff7f0e"/>
<circle cx="825.7" cy="192.4" r="6" fill="#1f77b4"/>
<circle cx="842.6" cy="193.0" r="6" fill="#1f77b4"/>
<circle cx="846.0" cy="182.5" r="6" fill="#1f77b4"/>
<circle cx="859.3" cy="191.3" r="6" fill="#1f77b4"/>
<circle cx="856.0" cy="185.9" r="6" fill="#1f77b4"/>
<circle cx="803.2" cy="203.8" r="6" fill="#1f77b4"/>
<circle cx="802.8" cy="200.1" r="6" fill="#1f77b4"/>
<circle cx="814.4" cy="201.9" r="6" fill="#1f77b4"/>
<circle cx="819.4" cy="208.9" r="6" fill="#1f77b4"/>
<circle cx="826.4" cy="213.1" r="6" fill="#1f77b4"/>
<circle cx="633.6" cy="144.5" r="6" fill="#ff7f0e"/>
<circle cx="715.0" cy="111.9" r="6" fill="#ff7f0e"/>
<circle cx="703.9" cy="143.3" r="6" fill="#1f77b4"/>
<circle cx="710.6" cy="139.6" r="6" fill="#1f77b4"/>
<circle cx="694.8" cy="142.4" r="6" fill="#1f77b4"/>
<circle cx="678.9" cy="151.9" r="6" fill="#1f77b4"/>
<circle cx="656.5" cy="164.6" r="6" fill="#1f77b4"/>
<circle cx="671.9" cy="161.9" r="6" fill="#1f77b4"/>
<circle cx="675.2" cy="167.4" r="6" fill="#1f77b4"/>
<circle cx="694.6" cy="163.5" r="6" fill="#1f77b4"/>
<circle cx="762.1" cy="113.2" r="6" fill="#ff7f0e"/>
<circle cx="761.4" cy="120.6" r="6" fill="#1f77b4"/>
<circle cx="730.0" cy="127.6" r="6" fill="#1f77b4"/>
<circle cx="739.9" cy="128.5" r="6" fill="#1f77b4"/>
<circle cx="745.7" cy="135.0" r="6" fill="#1f77b4"/>
<circle cx="756.6" cy="137.8" r="6" fill="#1f77b4"/>
<circle cx="730.0" cy="143.1" r="6" fill="#1f77b4"/>
<circle cx="770.0" cy="129.4" r="6" fill="#1f77b4"/>
<circle cx="781.6" cy="134.5" r="6" fill="#1f77b4"/>
<circle cx="770.0" cy="142.4" r="6" fill="#1f77b4"/>
<circle cx="790.4" cy="131.3" r="6" fill="#1f77b4"/>
<circle cx="795.0" cy="133.1" r="6" fill="#1f77b4"/>
<circle cx="798.7" cy="124.8" r="6" fill="#1f77b4"/>
<circle cx="789.4" cy="147.0" r="6" fill="#1f77b4"/>
<circle cx="768.1" cy="149.8" r="6" fill="#1f77b4"/>
<circle cx="780.2" cy="152.6" r="6" fill="#1f77b4"/>
<circle cx="780.2" cy="145.2" r="6" fill="#1f77b4"/>
<circle cx="797.3" cy="144.3" r="6" fill="#ff7f0e"/>
<circle cx="797.8" cy="153.5" r="6" fill="#ff7f0e"/>
<circle cx="763.1" cy="157.7" r="6" fill="#1f77b4"/>
<circle cx="772.8" cy="161.9" r="6" fill="#1f77b4"/>
<circle cx="793.1" cy="159.1" r="6" fill="#1f77b4"/>
<circle cx="783.4" cy="163.2" r="6" fill="#ff7f0e"/>
<circle cx="734.8" cy="163.2" r="6" fill="#1f77b4"/>
<circle cx="758.9" cy="166.5" r="6" fill="#1f77b4"/>
<circle cx="751.0" cy="165.6" r="6" fill="#1f77b4"/>
<circle cx="808.3" cy="112.3" r="6" fill="#ff7f0e"/>
<circle cx="806.9" cy="123.9" r="6" fill="#1f77b4"/>
<circle cx="816.7" cy="136.9" r="6" fill="#1f77b4"/>
<circle cx="809.7" cy="133.1" r="6" fill="#1f77b4"/>
<circle cx="824.1" cy="130.4" r="6" fill="#1f77b4"/>
<circle cx="843.5" cy="140.6" r="6" fill="#ff7f0e"/>
<circle cx="835.6" cy="138.2" r="6" fill="#ff7f0e"/>
<circle cx="876.4" cy="139.6" r="6" fill="#ff7f0e"/>
<circle cx="872.7" cy="130.6" r="6" fill="#1f77b4"/>
<circle cx="851.9" cy="141.9" r="6" fill="#1f77b4"/>
<circle cx="832.9" cy="148.0" r="6" fill="#1f77b4"/>
<circle cx="843.5" cy="147.0" r="6" fill="#1f77b4"/>
<circle cx="805.6" cy="168.3" r="6" fill="#ff7f0e"/>
<circle cx="804.2" cy="143.8" r="6" fill="#1f77b4"/>
<circle cx="808.3" cy="154.4" r="6" fill="#1f77b4"/>
<circle cx="803.7" cy="160.9" r="6" fill="#1f77b4"/>
<circle cx="857.2" cy="157.2" r="6" fill="#1f77b4"/>
<circle cx="824.1" cy="155.4" r="6" fill="#ff7f0e"/>
<circle cx="815.3" cy="161.4" r="6" fill="#ff7f0e"/>
<circle cx="824.5" cy="161.4" r="6" fill="#1f77b4"/>
<circle cx="838.9" cy="160.0" r="6" fill="#1f77b4"/>
<circle cx="836.6" cy="164.6" r="6" fill="#ff7f0e"/>
<circle cx="593.0" cy="101.3" r="6" fill="#1f77b4"/>
<circle cx="676.3" cy="87.8" r="6" fill="#1f77b4"/>
<circle cx="686.3" cy="100.7" r="6" fill="#1f77b4"/>
<circle cx="718.8" cy="86.9" r="6" fill="#1f77b4"/>
<circle cx="724.1" cy="95.4" r="6" fill="#1f77b4"/>
<circle cx="755.1" cy="73.0" r="6" fill="#1f77b4"/>
<circle cx="749.8" cy="83.3" r="6" fill="#1f77b4"/>
<circle cx="747.0" cy="92.6" r="6" fill="#ff7f0e"/>
<circle cx="755.4" cy="87.0" r="6" fill="#1f77b4"/>
<circle cx="757.4" cy="100.5" r="6" fill="#1f77b4"/>
<circle cx="785.9" cy="89.8" r="6" fill="#ff7f0e"/>
<circle cx="775.6" cy="92.4" r="6" fill="#ff7f0e"/>
<circle cx="775.9" cy="105.6" r="6" fill="#1f77b4"/>
<circle cx="784.1" cy="101.9" r="6" fill="#1f77b4"/>
<circle cx="787.3" cy="101.4" r="6" fill="#1f77b4"/>
<circle cx="793.7" cy="70.8" r="6" fill="#1f77b4"/>
<circle cx="827.5" cy="66.7" r="6" fill="#1f77b4"/>
<circle cx="833.5" cy="55.6" r="6" fill="#1f77b4"/>
<circle cx="830.7" cy="50.9" r="6" fill="#1f77b4"/>
<circle cx="852.0" cy="58.3" r="6" fill="#1f77b4"/>
<circle cx="861.3" cy="52.8" r="6" fill="#1f77b4"/>
<circle cx="854.8" cy="68.5" r="6" fill="#1f77b4"/>
<circle cx="808.5" cy="103.7" r="6" fill="#1f77b4"/>
<circle cx="800.6" cy="103.2" r="6" fill="#ff7f0e"/>
<circle cx="833.9" cy="39.2" r="6" fill="#1f77b4"/>
<circle cx="847.0" cy="44.3" r="6" fill="#1f77b4"/>
<circle cx="850.7" cy="45.6" r="6" fill="#1f77b4"/>
<circle cx="860.5" cy="35.0" r="6" fill="#1f77b4"/>
<circle cx="860.0" cy="38.7" r="6" fill="#1f77b4"/>
<circle cx="869.3" cy="48.0" r="6" fill="#1f77b4"/>
<circle cx="879.4" cy="60.0" r="6" fill="#ff7f0e"/>
<circle cx="879.4" cy="68.3" r="6" fill="#ff7f0e"/>
<circle cx="779.5" cy="41.9" r="6" fill="#1f77b4"/>
<circle cx="800.8" cy="41.0" r="6" fill="#1f77b4"/>
<circle cx="806.9" cy="45.6" r="6" fill="#1f77b4"/>
<circle cx="847.0" cy="75.6" r="6" fill="#1f77b4"/>
<circle cx="843.3" cy="71.9" r="6" fill="#1f77b4"/>
<circle cx="851.7" cy="72.8" r="6" fill="#1f77b4"/>
<circle cx="871.6" cy="72.8" r="6" fill="#1f77b4"/>
<circle cx="880.4" cy="71.9" r="6" fill="#ff7f0e"/>
<circle cx="811.9" cy="76.9" r="6" fill="#ff7f0e"/>
<circle cx="824.4" cy="72.8" r="6" fill="#ff7f0e"/>
<circle cx="814.6" cy="86.2" r="6" fill="#1f77b4"/>
<circle cx="853.1" cy="90.4" r="6" fill="#1f77b4"/>
<circle cx="830.8" cy="95.5" r="6" fill="#1f77b4"/>
<circle cx="834.5" cy="95.5" r="6" fill="#1f77b4"/>
<circle cx="840.7" cy="97.3" r="6" fill="#1f77b4"/>
<circle cx="864.6" cy="97.3" r="6" fill="#1f77b4"/>
<circle cx="878.5" cy="88.5" r="6" fill="#ff7f0e"/>
<circle cx="874.1" cy="95.7" r="6" fill="#ff7f0e"/>
<circle cx="874.8" cy="109.4" r="6" fill="#ff7f0e"/>
<circle cx="860.0" cy="101.5" r="6" fill="#ff7f0e"/>
<circle cx="853.1" cy="101.0" r="6" fill="#1f77b4"/>
<circle cx="863.7" cy="111.7" r="6" fill="#1f77b4"/>
<circle cx="844.3" cy="107.0" r="6" fill="#ff7f0e"/>
<circle cx="848.9" cy="112.1" r="6" fill="#ff7f0e"/>
<circle cx="856.3" cy="111.2" r="6" fill="#ff7f0e"/>
<circle cx="832.2" cy="113.5" r="6" fill="#ff7f0e"/>
<circle cx="837.8" cy="109.8" r="6" fill="#ff7f0e"/>
<circle cx="839.6" cy="117.7" r="6" fill="#ff7f0e"/>
<circle cx="855.4" cy="122.3" r="6" fill="#1f77b4"/>
<circle cx="843.8" cy="126.5" r="6" fill="#ff7f0e"/>
<circle cx="813.7" cy="104.3" r="6" fill="#1f77b4"/>
<circle cx="825.7" cy="101.5" r="6" fill="#1f77b4"/>
<circle cx="831.3" cy="105.2" r="6" fill="#1f77b4"/>
<circle cx="821.1" cy="106.1" r="6" fill="#1f77b4"/>
<circle cx="816.5" cy="118.1" r="6" fill="#1f77b4"/>
<circle cx="826.7" cy="120.0" r="6" fill="#1f77b4"/>
<circle cx="811.9" cy="125.6" r="6" fill="#1f77b4"/>
<circle cx="833.1" cy="124.6" r="6" fill="#1f77b4"/>
<circle cx="797.3" cy="144.3" r="6" fill="#ff7f0e"/>
<circle cx="797.8" cy="153.5" r="6" fill="#ff7f0e"/>
<circle cx="805.6" cy="178.3" r="6" fill="#1f77b4"/>
</g>
<line x1="108.0" y1="581.3" x2="882.2" y2="13.9" stroke="#808080" stroke-opacity="0.41" stroke-width="2.6" stroke-dasharray="11.15 4.82" stroke-dashoffset="2.5"/>
</g>
<rect x="108.0" y="13.9" width="774.2" height="567.4" fill="none" stroke="#000" stroke-width="1.6"/>
<g stroke="#000" stroke-width="1.6">
<line x1="108.0" y1="581.3" x2="108.0" y2="588.3"/>
<line x1="101.0" y1="581.3" x2="108.0" y2="581.3"/>
<line x1="262.8" y1="581.3" x2="262.8" y2="588.3"/>
<line x1="101.0" y1="467.8" x2="108.0" y2="467.8"/>
<line x1="417.7" y1="581.3" x2="417.7" y2="588.3"/>
<line x1="101.0" y1="354.3" x2="108.0" y2="354.3"/>
<line x1="572.5" y1="581.3" x2="572.5" y2="588.3"/>
<line x1="101.0" y1="240.9" x2="108.0" y2="240.9"/>
<line x1="727.4" y1="581.3" x2="727.4" y2="588.3"/>
<line x1="101.0" y1="127.4" x2="108.0" y2="127.4"/>
<line x1="882.2" y1="581.3" x2="882.2" y2="588.3"/>
<line x1="101.0" y1="13.9" x2="108.0" y2="13.9"/>
</g>
<g font-size="24px">
<text x="108.0" y="613.8" text-anchor="middle">0.0</text>
<text x="94.0" y="590.4" text-anchor="end">0.0</text>
<text x="262.8" y="613.8" text-anchor="middle">0.2</text>
<text x="94.0" y="476.9" text-anchor="end">0.2</text>
<text x="417.7" y="613.8" text-anchor="middle">0.4</text>
<text x="94.0" y="363.4" text-anchor="end">0.4</text>
<text x="572.5" y="613.8" text-anchor="middle">0.6</text>
<text x="94.0" y="250.0" text-anchor="end">0.6</text>
<text x="727.4" y="613.8" text-anchor="middle">0.8</text>
<text x="94.0" y="136.5" text-anchor="end">0.8</text>
<text x="882.2" y="613.8" text-anchor="middle">1.0</text>
<text x="94.0" y="23.0" text-anchor="end">1.0</text>
</g>
<text x="495.1" y="647.6" font-size="26.5px" text-anchor="middle">Perturbation ICC</text>
<text transform="translate(42.6 297.6) rotate(-90)" font-size="26.4px" text-anchor="middle">Test-retest ICC</text>
<text><tspan x="-1.8" y="24.3" font-size="30.8px">(</tspan><tspan x="10.4" y="21.7" font-size="27.5px">a</tspan><tspan x="28" y="24.3" font-size="30.8px">)</tspan></text>
<text x="160.9" y="57.9" font-size="26.55px">Significant level</text>
<text x="205.9" y="96.3" font-size="26.5px">p value &gt; 0.05</text>
<text x="205.9" y="135.1" font-size="26.5px">p value &lt; 0.05</text>
<circle cx="158.5" cy="89.6" r="7.7" fill="#1f77b4" stroke="#fff" stroke-width="1"/>
<circle cx="158.5" cy="128.5" r="7.7" fill="#ff7f0e" stroke="#fff" stroke-width="1"/>
<rect x="1062.9" y="276.20" width="69.6" height="297.10" fill="#1f77b4"/>
<rect x="1062.9" y="112.79" width="69.6" height="163.41" fill="#ff7f0e"/>
<rect x="1062.9" y="109.19" width="69.6" height="3.59" fill="#d62728"/>
<rect x="1062.9" y="36.60" width="69.6" height="72.60" fill="#2ca02c"/>
<rect x="1201.9" y="506.21" width="69.6" height="67.09" fill="#1f77b4"/>
<rect x="1201.9" y="271.50" width="69.6" height="234.71" fill="#ff7f0e"/>
<rect x="1201.9" y="268.82" width="69.6" height="2.68" fill="#d62728"/>
<rect x="1201.9" y="36.60" width="69.6" height="232.22" fill="#2ca02c"/>
<rect x="1340.9" y="565.63" width="69.6" height="7.67" fill="#1f77b4"/>
<rect x="1340.9" y="512.44" width="69.6" height="53.19" fill="#ff7f0e"/>
<rect x="1340.9" y="511.24" width="69.6" height="1.20" fill="#d62728"/>
<rect x="1340.9" y="36.60" width="69.6" height="474.65" fill="#2ca02c"/>
<rect x="1479.9" y="552.45" width="69.6" height="20.85" fill="#ff7f0e"/>
<rect x="1479.9" y="551.26" width="69.6" height="1.20" fill="#d62728"/>
<rect x="1479.9" y="36.60" width="69.6" height="514.66" fill="#2ca02c"/>
<rect x="1028.2" y="9.6" width="555.8" height="563.7" fill="none" stroke="#000" stroke-width="1.6"/>
<g stroke="#000" stroke-width="1.6">
<line x1="1097.7" y1="573.3" x2="1097.7" y2="580.3"/>
<line x1="1236.7" y1="573.3" x2="1236.7" y2="580.3"/>
<line x1="1375.7" y1="573.3" x2="1375.7" y2="580.3"/>
<line x1="1514.7" y1="573.3" x2="1514.7" y2="580.3"/>
<line x1="1021.2" y1="573.3" x2="1028.2" y2="573.3"/>
<line x1="1021.2" y1="477.5" x2="1028.2" y2="477.5"/>
<line x1="1021.2" y1="381.6" x2="1028.2" y2="381.6"/>
<line x1="1021.2" y1="285.8" x2="1028.2" y2="285.8"/>
<line x1="1021.2" y1="189.9" x2="1028.2" y2="189.9"/>
<line x1="1021.2" y1="94.1" x2="1028.2" y2="94.1"/>
</g>
<g font-size="24px">
<text x="1097.7" y="606.0" text-anchor="middle">ICC&gt;0.5</text>
<text x="1236.7" y="606.0" text-anchor="middle">ICC&gt;0.75</text>
<text x="1375.7" y="606.0" text-anchor="middle">ICC&gt;0.9</text>
<text x="1514.7" y="606.0" text-anchor="middle">ICC&gt;0.95</text>
<text x="1014.2" y="582.4" text-anchor="end">0</text>
<text x="1014.2" y="486.6" text-anchor="end">200</text>
<text x="1014.2" y="390.7" text-anchor="end">400</text>
<text x="1014.2" y="294.9" text-anchor="end">600</text>
<text x="1014.2" y="199.0" text-anchor="end">800</text>
<text x="1014.2" y="103.2" text-anchor="end">1000</text>
</g>
<text x="1306.1" y="638.7" font-size="26px" text-anchor="middle">Repeatability Thresholds</text>
<text transform="translate(940.8 291.4) rotate(-90)" font-size="26px" text-anchor="middle">Feature Number</text>
<text><tspan x="911.4" y="24.3" font-size="30.8px">(</tspan><tspan x="924.2" y="21.8" font-size="27.5px">b</tspan><tspan x="941.2" y="24.3" font-size="30.8px">)</tspan></text>
<rect x="1606.9" y="223.7" width="51.2" height="18.4" fill="#1f77b4"/>
<text x="1679" y="242.3" font-size="26px">P+TR+</text>
<rect x="1606.9" y="262.0" width="51.2" height="18.4" fill="#ff7f0e"/>
<text x="1679" y="280.6" font-size="26px">P+TR-</text>
<rect x="1606.9" y="300.3" width="51.2" height="18.4" fill="#d62728"/>
<text x="1679" y="318.9" font-size="26px">P-TR+</text>
<rect x="1606.9" y="338.6" width="51.2" height="18.4" fill="#2ca02c"/>
<text x="1679" y="357.2" font-size="26px">P-TR-</text>
</svg></body></html>
